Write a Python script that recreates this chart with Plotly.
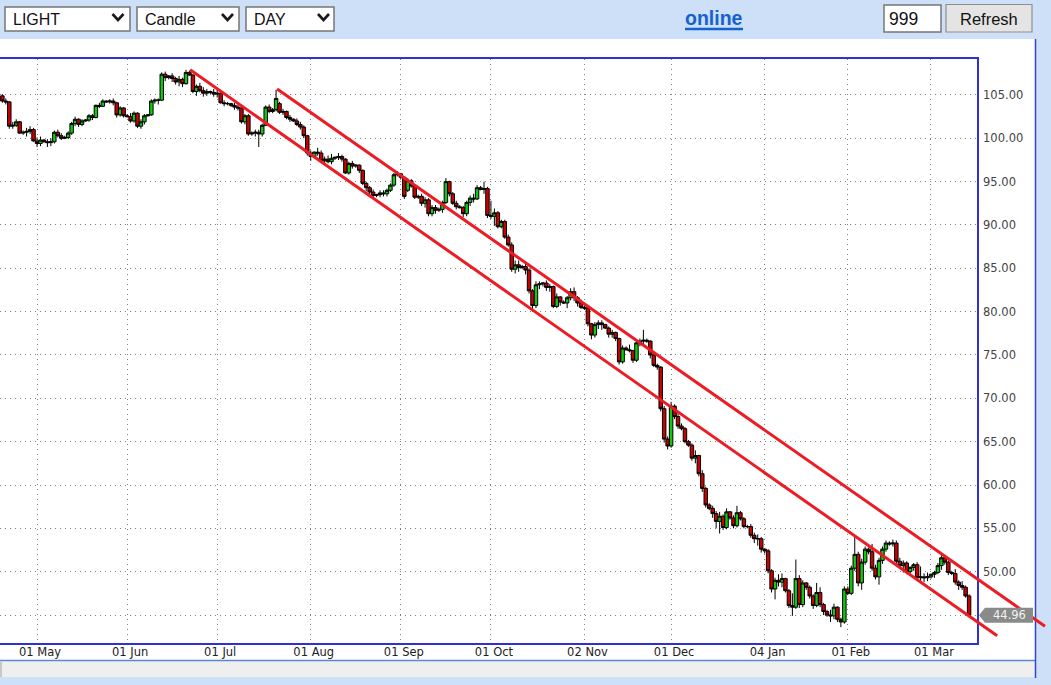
import plotly.graph_objects as go
import pandas as pd

# ---------------- data ----------------
# trading sessions (Sunday-Friday feed), closed on Christmas / New Year
START, END = "2014-04-20", "2015-03-13"
CLOSED = ["2014-12-25", "2015-01-01"]
dates = [d.strftime("%Y-%m-%d") for d in pd.date_range(START, END)
         if d.weekday() != 5 and d.strftime("%Y-%m-%d") not in CLOSED]

opens = [
    104.9, 104.3, 104.2, 101.4, 101.5, 101.9, 100.6, 100.7, 100.8, 101.0,
    99.7, 99.4, 99.8, 99.6, 99.5, 99.6, 100.7, 100.3, 100.0, 100.1,
    100.6, 101.7, 102.2, 101.6, 102.0, 102.1, 102.6, 102.4, 103.8, 103.7,
    104.3, 104.2, 104.3, 104.1, 102.7, 103.5, 102.6, 102.5, 102.0, 102.9,
    101.4, 101.9, 102.6, 102.7, 104.3, 104.4, 104.4, 107.4, 107.0, 107.2,
    106.9, 106.5, 106.8, 106.3, 107.6, 107.3, 105.4, 106.0, 105.5, 105.2,
    105.4, 105.3, 105.1, 105.2, 104.1, 104.0, 104.0, 103.8, 103.6, 103.5,
    101.9, 102.6, 100.5, 100.6, 100.7, 100.5, 101.5, 103.6, 103.1, 103.3,
    104.0, 103.0, 103.1, 102.4, 102.2, 102.0, 101.6, 101.3, 100.3, 98.3,
    97.9, 98.4, 98.3, 97.4, 97.6, 97.3, 97.7, 97.8, 97.9, 97.6,
    96.0, 97.1, 96.8, 96.9, 96.3, 94.8, 94.3, 93.8, 93.4, 93.5,
    93.7, 93.6, 94.0, 94.6, 95.8, 95.9, 95.5, 94.0, 95.1, 94.5,
    93.2, 93.3, 92.5, 92.9, 91.3, 92.0, 91.7, 91.8, 92.6, 95.0,
    93.6, 92.5, 92.1, 92.0, 91.3, 92.6, 93.1, 93.0, 94.3, 94.1,
    94.2, 91.1, 91.0, 91.4, 89.8, 90.4, 88.6, 87.7, 84.9, 85.4,
    85.1, 85.2, 84.8, 82.4, 80.7, 83.1, 83.2, 83.3, 82.8, 82.9,
    80.6, 81.7, 81.1, 81.0, 81.6, 82.3, 81.6, 81.0, 80.5, 80.4,
    78.6, 77.3, 78.5, 78.7, 78.5, 78.1, 77.4, 77.6, 76.9, 74.2,
    75.8, 75.6, 75.5, 74.4, 76.4, 76.6, 76.7, 76.6, 75.0, 73.8,
    73.6, 68.8, 65.3, 64.5, 69.1, 67.9, 66.8, 66.5, 65.0, 64.6,
    63.1, 63.4, 61.3, 59.6, 57.7, 57.3, 56.7, 55.8, 56.4, 55.1,
    56.9, 56.2, 55.3, 56.8, 56.1, 55.2, 55.2, 54.2, 53.8, 53.8,
    52.6, 52.4, 50.1, 48.0, 49.0, 48.8, 49.2, 47.8, 46.1, 45.9,
    49.2, 46.2, 48.7, 48.2, 47.2, 46.1, 47.6, 46.2, 45.4, 45.0,
    44.9, 45.9, 44.5, 44.2, 48.0, 47.5, 50.4, 52.0, 48.7, 51.1,
    52.6, 52.3, 50.4, 49.4, 51.3, 52.6, 53.3, 53.2, 53.3, 51.2,
    50.7, 51.0, 50.0, 50.5, 50.8, 49.3, 49.4, 49.3, 49.4, 49.7,
    49.9, 50.7, 51.6, 51.1, 49.9, 49.8, 48.8, 48.4, 48.2, 47.2,
]
highs = [
    105.1, 104.6, 104.3, 101.9, 102.2, 102.0, 100.9, 101.2, 101.4, 101.2,
    100.1, 100.2, 99.9, 99.9, 100.0, 100.9, 101.0, 100.6, 100.3, 100.8,
    101.9, 102.5, 102.3, 102.2, 102.2, 102.8, 102.8, 103.9, 104.1, 104.5,
    104.4, 104.5, 104.6, 104.2, 103.7, 103.6, 102.8, 102.9, 103.1, 103.0,
    102.2, 102.8, 102.8, 104.5, 104.6, 104.6, 107.6, 107.7, 107.3, 107.5,
    107.1, 107.2, 107.0, 107.9, 107.8, 107.4, 106.2, 106.4, 105.9, 105.7,
    105.5, 105.7, 105.6, 105.3, 104.4, 104.2, 104.1, 104.1, 103.9, 103.7,
    102.8, 102.8, 100.8, 101.0, 101.0, 101.7, 103.8, 103.9, 103.5, 105.6,
    104.2, 103.4, 103.2, 102.7, 102.3, 102.3, 101.9, 101.5, 100.4, 98.6,
    98.5, 98.9, 98.6, 97.9, 98.0, 98.2, 97.9, 98.3, 98.1, 97.7,
    97.3, 97.4, 97.0, 97.0, 96.4, 95.0, 94.5, 94.1, 93.6, 94.0,
    94.0, 94.2, 94.8, 96.0, 96.2, 96.0, 95.6, 95.4, 95.3, 94.7,
    93.5, 93.6, 93.2, 93.1, 92.3, 92.3, 92.0, 92.8, 95.4, 95.1,
    93.8, 92.8, 92.3, 92.2, 92.8, 93.4, 93.6, 94.6, 94.5, 95.0,
    94.4, 92.8, 91.9, 91.6, 90.6, 90.6, 88.9, 88.0, 85.9, 85.9,
    85.4, 85.6, 85.0, 82.6, 83.5, 83.5, 83.4, 83.6, 83.2, 83.0,
    82.1, 81.8, 81.3, 81.8, 82.7, 82.8, 81.8, 81.4, 80.7, 80.6,
    78.7, 78.8, 79.0, 79.0, 78.6, 78.3, 77.9, 77.7, 77.0, 76.1,
    76.0, 76.2, 75.6, 76.6, 76.9, 77.9, 76.9, 76.7, 75.2, 74.0,
    73.7, 69.1, 65.6, 69.6, 69.3, 68.3, 67.1, 66.7, 65.2, 64.8,
    64.0, 63.5, 61.7, 59.8, 57.9, 57.6, 57.0, 56.9, 56.6, 57.3,
    57.0, 56.5, 57.6, 57.0, 56.3, 55.4, 55.5, 54.5, 54.3, 54.0,
    52.7, 52.6, 50.3, 49.3, 49.7, 49.8, 49.3, 48.0, 47.5, 51.4,
    49.6, 49.0, 48.8, 48.4, 47.4, 48.7, 48.2, 46.4, 45.6, 45.6,
    46.3, 46.0, 44.7, 48.3, 48.3, 50.7, 54.1, 52.3, 51.5, 52.9,
    52.8, 53.2, 50.8, 51.6, 52.9, 53.6, 53.5, 53.7, 53.6, 51.6,
    51.3, 51.2, 50.6, 51.0, 51.1, 50.6, 49.8, 49.9, 49.8, 50.1,
    51.0, 52.1, 51.9, 51.3, 50.1, 50.3, 49.0, 48.9, 48.4, 47.4,
]
lows = [
    104.1, 103.9, 101.1, 101.1, 101.3, 100.5, 100.4, 100.2, 100.5, 99.6,
    99.0, 99.1, 99.5, 99.0, 99.1, 99.4, 100.1, 99.8, 99.9, 99.9,
    100.4, 101.4, 101.3, 101.4, 101.9, 101.9, 102.1, 102.3, 103.5, 103.6,
    104.1, 104.0, 103.8, 102.4, 102.5, 102.4, 102.4, 101.8, 101.8, 101.2,
    101.1, 101.6, 102.5, 102.6, 104.0, 103.9, 104.3, 106.6, 106.8, 106.5,
    106.2, 106.0, 105.9, 106.2, 107.2, 105.2, 104.9, 105.3, 104.8, 104.9,
    105.1, 104.8, 104.7, 104.0, 103.7, 103.8, 103.6, 103.3, 103.2, 101.7,
    101.6, 100.3, 100.3, 100.2, 99.0, 100.2, 101.4, 102.9, 102.9, 103.1,
    102.8, 102.7, 102.2, 101.9, 101.9, 101.4, 101.0, 100.0, 98.0, 97.4,
    97.8, 98.0, 97.2, 97.0, 97.1, 97.0, 97.5, 97.5, 97.3, 95.9,
    95.8, 96.5, 96.6, 96.0, 94.6, 93.9, 93.5, 93.0, 93.2, 93.2,
    93.3, 93.3, 93.8, 94.4, 95.6, 95.3, 93.0, 93.8, 94.3, 93.0,
    93.0, 92.2, 92.0, 91.0, 91.0, 91.3, 91.5, 91.4, 92.4, 93.3,
    92.3, 91.8, 91.9, 90.9, 91.0, 92.2, 92.6, 92.9, 94.0, 93.6,
    90.8, 90.7, 89.9, 89.6, 89.6, 88.4, 87.5, 84.6, 84.4, 84.6,
    84.9, 84.3, 82.1, 80.0, 80.4, 82.6, 82.9, 82.4, 82.3, 80.4,
    80.4, 80.7, 80.9, 80.4, 81.3, 81.2, 80.6, 80.3, 80.2, 78.3,
    76.8, 77.0, 78.0, 77.9, 78.0, 77.0, 77.0, 76.6, 73.9, 74.0,
    75.5, 75.3, 74.1, 74.2, 76.0, 76.2, 76.4, 74.6, 73.6, 73.3,
    68.5, 64.9, 64.1, 64.3, 67.6, 66.5, 66.3, 64.8, 64.4, 62.8,
    62.5, 61.0, 59.2, 57.4, 57.1, 56.2, 55.0, 54.4, 54.8, 54.9,
    56.0, 55.0, 55.1, 55.9, 55.0, 55.0, 53.9, 53.3, 53.0, 52.2,
    52.1, 49.8, 47.6, 46.8, 48.3, 48.2, 47.6, 45.8, 44.9, 45.7,
    45.8, 45.9, 47.9, 46.9, 45.7, 45.9, 45.9, 45.0, 44.8, 44.2,
    44.5, 44.2, 43.6, 44.0, 47.3, 47.3, 50.1, 48.3, 47.9, 50.8,
    52.0, 50.1, 49.1, 48.5, 50.9, 52.3, 53.0, 52.9, 50.9, 50.3,
    49.9, 49.7, 49.8, 50.1, 49.0, 48.8, 48.8, 48.9, 49.2, 49.3,
    49.7, 50.2, 50.8, 49.6, 49.6, 48.5, 47.9, 47.9, 47.0, 44.8,
]
closes = [
    104.3, 104.2, 101.4, 101.5, 101.9, 100.6, 100.7, 100.8, 101.0, 99.7,
    99.4, 99.8, 99.6, 99.5, 99.6, 100.7, 100.3, 100.0, 100.1, 100.6,
    101.7, 102.2, 101.6, 102.0, 102.1, 102.6, 102.4, 103.8, 103.7, 104.3,
    104.2, 104.3, 104.1, 102.7, 103.5, 102.6, 102.5, 102.0, 102.9, 101.4,
    101.9, 102.6, 102.7, 104.3, 104.4, 104.4, 107.4, 107.0, 107.2, 106.9,
    106.5, 106.8, 106.3, 107.6, 107.3, 105.4, 106.0, 105.5, 105.2, 105.4,
    105.3, 105.1, 105.2, 104.1, 104.0, 104.0, 103.8, 103.6, 103.5, 101.9,
    102.6, 100.5, 100.6, 100.7, 100.5, 101.5, 103.6, 103.1, 103.3, 104.6,
    103.0, 103.1, 102.4, 102.2, 102.0, 101.6, 101.3, 100.3, 98.3, 97.9,
    98.4, 98.3, 97.4, 97.6, 97.3, 97.7, 97.8, 97.9, 97.6, 96.0,
    97.1, 96.8, 96.9, 96.3, 94.8, 94.3, 93.8, 93.4, 93.5, 93.7,
    93.6, 94.0, 94.6, 95.8, 95.9, 95.5, 93.3, 95.1, 94.5, 93.2,
    93.3, 92.5, 92.9, 91.3, 92.0, 91.7, 91.8, 92.6, 95.0, 93.6,
    92.5, 92.1, 92.0, 91.3, 92.6, 93.1, 93.0, 94.3, 94.1, 94.2,
    91.1, 91.0, 91.4, 89.8, 90.4, 88.6, 87.7, 84.9, 85.4, 85.1,
    85.2, 84.8, 82.4, 80.7, 83.1, 83.2, 83.3, 82.8, 82.9, 80.6,
    81.7, 81.1, 81.0, 81.6, 82.3, 81.6, 81.0, 80.5, 80.4, 78.6,
    77.3, 78.5, 78.7, 78.5, 78.1, 77.4, 77.6, 76.9, 74.2, 75.8,
    75.6, 75.5, 74.4, 76.4, 76.6, 76.7, 76.6, 75.0, 73.8, 73.6,
    68.8, 65.3, 64.5, 69.1, 67.9, 66.8, 66.5, 65.0, 64.6, 63.1,
    63.4, 61.3, 59.6, 57.7, 57.3, 56.7, 55.8, 56.4, 55.1, 56.9,
    56.2, 55.3, 56.8, 56.1, 55.2, 55.2, 54.2, 53.8, 53.8, 52.6,
    52.4, 50.1, 48.0, 49.0, 48.8, 49.2, 47.8, 46.1, 45.9, 49.2,
    46.2, 48.7, 48.2, 47.2, 46.1, 47.6, 46.2, 45.4, 45.0, 44.9,
    45.9, 44.5, 44.2, 48.0, 47.5, 50.4, 52.0, 48.7, 51.1, 52.6,
    52.3, 50.4, 49.4, 51.3, 52.6, 53.3, 53.2, 53.3, 51.2, 50.7,
    51.0, 50.0, 50.5, 50.8, 49.3, 49.4, 49.3, 49.4, 49.7, 49.9,
    50.7, 51.6, 51.1, 49.9, 49.8, 48.8, 48.4, 48.2, 47.2, 44.96,
]

tick_dates = ["2014-05-01", "2014-06-01", "2014-07-01", "2014-08-01", "2014-09-01",
              "2014-10-01", "2014-11-02", "2014-12-01", "2015-01-04", "2015-02-01",
              "2015-03-01"]
tick_labels = ["01 May", "01 Jun", "01 Jul", "01 Aug", "01 Sep", "01 Oct",
               "02 Nov", "01 Dec", "04 Jan", "01 Feb", "01 Mar"]
price_ticks = [45, 50, 55, 60, 65, 70, 75, 80, 85, 90, 95, 100, 105]
last_price = closes[-1]

# channel lines drawn by the user: (bar index, price) start -> end
trend_lines = [((54.2, 107.9), (287.1, 42.6)),
               ((79.3, 105.7), (300.9, 43.7))]

assert len(dates) == len(opens) == len(highs) == len(lows) == len(closes)

# ---------------- layout geometry ----------------
W, H = 1051, 685
ML, MR, MT, MB = 0, 74, 59, 42
PW, PH = W - ML - MR, H - MT - MB
XR = [-0.68, 281.28]
YR = [41.77, 109.15]

xs = list(range(len(dates)))
idx = {d: i for i, d in enumerate(dates)}
tickvals = [idx[d] for d in tick_dates]


def fx(px):
    return (px - ML) / PW


def fy(py):
    return (H - MB - py) / PH


def dx(i):
    return (i - XR[0]) / (XR[1] - XR[0])


def dy(p):
    return (p - YR[0]) / (YR[1] - YR[0])


BG = "#cde0f7"
BORDER = "#2f2fd2"
RED = "#ec1c24"

fig = go.Figure()
fig.add_trace(go.Candlestick(
    x=xs, open=opens, high=highs, low=lows, close=closes,
    increasing=dict(fillcolor="#10c810", line=dict(color="#000000", width=1)),
    decreasing=dict(fillcolor="#c80000", line=dict(color="#000000", width=1)),
    whiskerwidth=0, hoverinfo="skip", showlegend=False,
))

shapes = []
annotations = []

# page panels
shapes.append(dict(type="rect", xref="paper", yref="paper", layer="below",
                   x0=fx(0), x1=fx(1035), y0=fy(660), y1=fy(39),
                   fillcolor="#ffffff", line=dict(width=0)))
shapes.append(dict(type="rect", xref="paper", yref="paper", layer="below",
                   x0=fx(0), x1=fx(1035), y0=fy(677), y1=fy(661),
                   fillcolor="#efefef", line=dict(width=0)))
shapes.append(dict(type="line", xref="paper", yref="paper",
                   x0=fx(0), x1=fx(1035), y0=fy(660.5), y1=fy(660.5),
                   line=dict(color="#5b86d3", width=1.5)))
shapes.append(dict(type="line", xref="paper", yref="paper",
                   x0=fx(1035.5), x1=fx(1035.5), y0=fy(678), y1=fy(39),
                   line=dict(color="#2d45d2", width=1.5)))
shapes.append(dict(type="line", xref="paper", yref="paper",
                   x0=fx(1), x1=fx(1), y0=fy(677), y1=fy(662),
                   line=dict(color="#a0a0a0", width=1)))

# toolbar: dropdowns
for (x0, x1, label, chev) in [(5, 130, "LIGHT", 118), (137, 239, "Candle", 227.5),
                              (246, 334, "DAY", 323.5)]:
    shapes.append(dict(type="rect", xref="paper", yref="paper",
                       x0=fx(x0), x1=fx(x1), y0=fy(31), y1=fy(7),
                       fillcolor="#ffffff", line=dict(color="#767676", width=1.5)))
    shapes.append(dict(type="path", xref="paper", yref="paper",
                       path=f"M {fx(chev-5.5)} {fy(14)} L {fx(chev)} {fy(20)} L {fx(chev+5.5)} {fy(14)}",
                       line=dict(color="#1a1a1a", width=2.6)))
    annotations.append(dict(xref="paper", yref="paper", x=fx(x0 + 6), y=fy(19.5),
                            xanchor="left", yanchor="middle", showarrow=False,
                            text=label, font=dict(family="Liberation Sans, Arial", size=16,
                                                  color="#111111")))

# "online" link
annotations.append(dict(xref="paper", yref="paper", x=fx(714), y=fy(18),
                        xanchor="center", yanchor="middle", showarrow=False,
                        text="<b>online</b>",
                        font=dict(family="Liberation Sans, Arial", size=19.5, color="#1661cf")))
shapes.append(dict(type="line", xref="paper", yref="paper",
                   x0=fx(685), x1=fx(743), y0=fy(29), y1=fy(29),
                   line=dict(color="#1661cf", width=2.5)))

# 999 input box
shapes.append(dict(type="rect", xref="paper", yref="paper",
                   x0=fx(884), x1=fx(941), y0=fy(32), y1=fy(5),
                   fillcolor="#ffffff", line=dict(color="#767676", width=1.5)))
annotations.append(dict(xref="paper", yref="paper", x=fx(887), y=fy(19),
                        xanchor="left", yanchor="middle", showarrow=False,
                        text="999", font=dict(family="Liberation Sans, Arial", size=17.5,
                                              color="#111111")))
# Refresh button
shapes.append(dict(type="rect", xref="paper", yref="paper",
                   x0=fx(946), x1=fx(1032), y0=fy(32), y1=fy(4.5),
                   fillcolor="#e4e4e4", line=dict(color="#8f8f8f", width=1.2)))
annotations.append(dict(xref="paper", yref="paper", x=fx(989), y=fy(19),
                        xanchor="center", yanchor="middle", showarrow=False,
                        text="Refresh", font=dict(family="Liberation Sans, Arial", size=16.5,
                                                  color="#111111")))

# trend lines (not clipped to plot area)
for (i0, p0), (i1, p1) in trend_lines:
    shapes.append(dict(type="line", xref="paper", yref="paper", layer="above",
                       x0=dx(i0), y0=dy(p0), x1=dx(i1), y1=dy(p1),
                       line=dict(color=RED, width=3)))

# last price marker
yc = dy(last_price)
hh = 7.5 / PH
shapes.append(dict(type="path", xref="paper", yref="paper", layer="above",
                   path=(f"M {fx(979)} {yc} L {fx(985)} {yc + hh} L {fx(1033)} {yc + hh} "
                         f"L {fx(1033)} {yc - hh} L {fx(985)} {yc - hh} Z"),
                   fillcolor="#8a8a8a", line=dict(width=0)))
annotations.append(dict(xref="paper", yref="paper", x=fx(1009), y=yc,
                        xanchor="center", yanchor="middle", showarrow=False,
                        text=f"{last_price:.2f}",
                        font=dict(family="DejaVu Sans", size=11.5, color="#f2f2f2")))

grid = dict(showgrid=True, gridcolor="#808080", gridwidth=1, griddash="1px,4px")

fig.update_layout(
    width=W, height=H, autosize=False,
    margin=dict(l=ML, r=MR, t=MT, b=MB, pad=0),
    paper_bgcolor=BG, plot_bgcolor="#ffffff",
    boxgap=0.0, boxgroupgap=0.0,
    hovermode=False, showlegend=False,
    shapes=shapes, annotations=annotations,
    xaxis=dict(range=XR, tickmode="array", tickvals=tickvals, ticktext=tick_labels,
               showline=True, linecolor=BORDER, linewidth=1.5, mirror=True,
               ticks="", zeroline=False, rangeslider=dict(visible=False),
               ticklabelshift=3, ticklabelstandoff=-3,
               tickfont=dict(family="DejaVu Sans", size=11.5, color="#222222"), **grid),
    yaxis=dict(range=YR, side="right", tickmode="array", tickvals=price_ticks,
               ticktext=["" if v == 45 else f"{v:.2f}" for v in price_ticks],
               showline=True, linecolor=BORDER, linewidth=1.5, mirror=False,
               ticks="", zeroline=False, ticklabelstandoff=2,
               tickfont=dict(family="DejaVu Sans", size=11.5, color="#444444"), **grid),
)

fig.write_html("out.html", config={"displayModeBar": False},
               post_script="document.body.style.margin='0px';document.body.style.overflow='hidden';")
